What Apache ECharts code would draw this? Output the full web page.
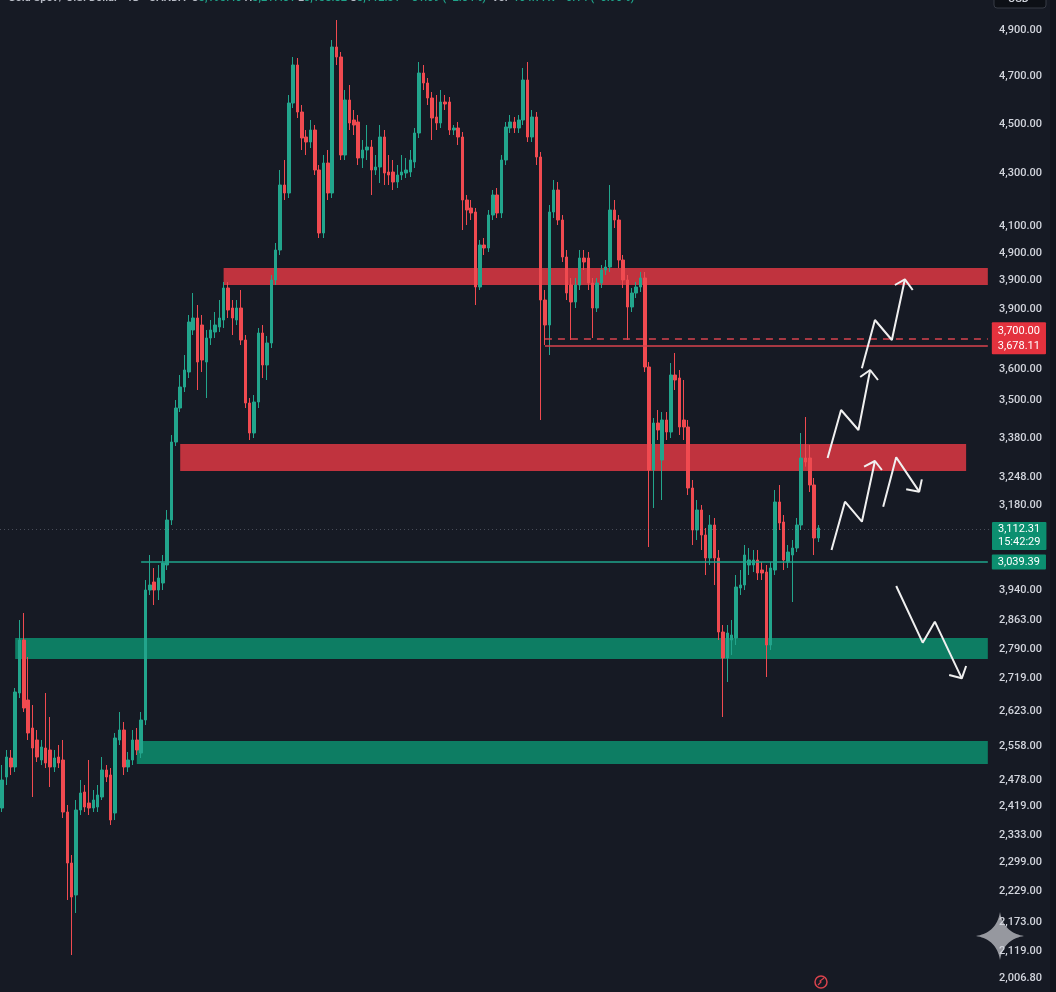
<!DOCTYPE html>
<html><head><meta charset="utf-8">
<script src="https://cdn.jsdelivr.net/npm/echarts@6/dist/echarts.min.js"></script>
<style>html,body{margin:0;padding:0;background:#161a24;overflow:hidden}#c{width:1056px;height:992px}</style>
</head><body><div id="c"></div>
<script>
// ---------- data ----------
// candles: [open, close, low, high]
const ohlc = [
[2576,2660,2564,2705],[2669,2729,2645,2750],[2726,2699,2675,2750],[2699,2924,2684,2936],[2921,3080,2906,3140],
[3080,2876,2864,3161],[2900,2801,2780,3029],[2816,2756,2609,2885],[2780,2729,2714,2810],[2720,2759,2705,2780],
[2756,2711,2696,2921],[2750,2699,2639,2849],[2699,2726,2684,2750],[2729,2711,2696,2765],[2720,2564,2546,2780],
[2564,2411,2300,2585],[2411,2309,2135,2435],[2315,2570,2261,2600],[2570,2621,2555,2660],[2624,2579,2564,2645],
[2591,2576,2555,2720],[2576,2600,2564,2630],[2579,2615,2564,2645],[2609,2690,2600,2729],[2690,2669,2654,2705],
[2675,2540,2525,2696],[2561,2786,2540,2801],[2780,2810,2765,2864],[2810,2699,2675,2834],[2699,2720,2684,2744],
[2720,2780,2705,2810],[2780,2750,2735,2816],[2741,2840,2726,2864],[2840,3230,2825,3260],[3230,3245,3215,3335],
[3254,3230,3185,3296],[3230,3266,3200,3305],[3251,3311,3230,3335],[3305,3440,3290,3470],[3440,3674,3425,3695],
[3674,3776,3662,3800],[3776,3839,3764,3875],[3839,3890,3824,3935],[3884,4034,3866,4055],[4010,4046,3995,4121],
[4046,3914,3830,4085],[4025,3920,3884,4055],[3914,3986,3806,4010],[3986,4010,3965,4040],[4004,4025,3986,4064],
[4019,4046,4004,4100],[4040,4136,4016,4154],[4136,4070,4046,4154],[4076,4046,3995,4100],[4040,4076,4025,4100],
[4076,3980,3965,4130],[3980,3791,3776,3995],[3791,3701,3680,3806],[3701,3794,3686,3815],[3794,4001,3776,4016],
[4001,3905,3866,4025],[3905,3971,3860,3992],[3971,4160,3956,4175],[4160,4250,4145,4271],[4250,4445,4235,4490],
[4445,4421,4400,4520],[4421,4691,4406,4715],[4691,4805,4676,4829],[4805,4664,4646,4826],[4664,4586,4550,4685],
[4589,4574,4535,4610],[4574,4610,4556,4640],[4610,4490,4475,4625],[4490,4301,4286,4505],[4301,4511,4286,4535],
[4511,4421,4400,4550],[4421,4859,4406,4880],[4859,4829,4805,4940],[4829,4535,4520,4844],[4535,4700,4520,4730],
[4700,4631,4610,4745],[4640,4625,4595,4670],[4634,4526,4505,4655],[4526,4550,4496,4580],[4550,4559,4520,4625],
[4559,4490,4415,4580],[4490,4499,4475,4535],[4499,4589,4451,4625],[4589,4481,4445,4610],[4484,4475,4445,4535],
[4484,4454,4430,4520],[4454,4475,4436,4505],[4475,4484,4460,4535],[4481,4490,4466,4526],[4484,4520,4469,4550],
[4514,4601,4496,4616],[4601,4781,4586,4814],[4781,4751,4730,4805],[4751,4706,4685,4766],[4706,4646,4580,4724],
[4649,4631,4610,4715],[4631,4694,4616,4730],[4694,4688,4670,4715],[4694,4610,4595,4709],[4610,4616,4595,4625],
[4616,4589,4565,4634],[4589,4400,4310,4604],[4400,4370,4325,4415],[4376,4361,4340,4400],[4364,4139,4085,4376],
[4139,4265,4130,4280],[4265,4256,4235,4286],[4256,4355,4244,4370],[4355,4415,4340,4430],[4415,4361,4346,4436],
[4361,4520,4346,4535],[4520,4619,4505,4634],[4616,4634,4601,4655],[4634,4616,4601,4649],[4616,4640,4601,4655],
[4640,4760,4625,4796],[4760,4589,4574,4814],[4589,4649,4574,4670],[4649,4529,4505,4664],[4529,4100,3740,4544],
[4100,4025,3965,4130],[4025,4364,3935,4385],[4364,4430,4346,4460],[4430,4340,4325,4454],[4340,4229,4214,4355],
[4229,4121,4100,4250],[4145,4094,3980,4166],[4094,4145,4076,4166],[4145,4226,4130,4250],[4226,4214,4190,4250],
[4226,4151,4130,4244],[4151,4076,3986,4166],[4076,4151,4064,4166],[4151,4190,4136,4205],[4190,4199,4175,4220],
[4199,4370,4184,4445],[4370,4340,4316,4400],[4340,4220,4196,4355],[4220,4160,4136,4235],[4160,4079,3980,4175],
[4079,4121,4064,4136],[4121,4139,4106,4154],[4139,4166,4124,4184],[4166,3899,3884,4184],[3899,3590,3359,3914],
[3590,3731,3476,3746],[3731,3710,3680,3770],[3620,3740,3500,3764],[3740,3704,3680,3764],[3704,3875,3686,3911],
[3875,3860,3830,3941],[3866,3719,3695,3890],[3740,3719,3680,3860],[3719,3536,3515,3740],[3536,3410,3365,3560],
[3410,3470,3380,3500],[3470,3395,3350,3485],[3395,3326,3275,3416],[3326,3425,3305,3455],[3425,3326,3245,3446],
[3326,3104,3080,3350],[3104,3026,2849,3125],[3026,3101,2954,3125],[3080,3095,3035,3140],[3086,3239,3065,3275],
[3236,3245,3215,3290],[3245,3335,3230,3365],[3305,3320,3275,3356],[3305,3320,3284,3350],[3320,3281,3260,3350],
[3290,3281,3260,3314],[3284,3065,2969,3305],[3065,3296,3050,3314],[3290,3494,3275,3530],[3494,3431,3410,3545],
[3434,3320,3290,3455],[3314,3344,3296,3365],[3335,3356,3194,3380],[3356,3425,3344,3446],[3425,3626,3410,3701],
[3626,3614,3600,3749],[3626,3545,3524,3665],[3545,3386,3335,3566],[3386,3416,3374,3425]
];
const slotCount = 228;               // candle slots incl. empty right margin
const categories = [];
for (let i = 0; i < slotCount; i++) categories.push('Bar ' + (i + 1));

const yMin = 2024, yMax = 5000;
const yTickValues = [4908,4770,4628,4481,4322,4241,4158,4073,3893,3800,3686,3569,3485,3228,3140,3053,2966,2865,2762,2660,2580,2495,2412,2325,2232,2147,2065];
const yTickLabels = ['4,900.00','4,700.00','4,500.00','4,300.00','4,100.00','4,900.00','3,900.00','3,900.00','3,600.00','3,500.00','3,380.00','3,248.00','3,180.00','3,940.00','2,863.00','2,790.00','2,719.00','2,623.00','2,558.00','2,478.00','2,419.00','2,333.00','2,299.00','2,229.00','2,173.00','2,119.00','2,006.80'];

// zones: [fromBar, toBar, low, high]
const redZones = [[51, 227, 4145, 4196], [41, 222, 3587, 3668]];
const greenZones = [[3, 227, 3023, 3086], [31, 227, 2708, 2777]];
const resistanceDash = [125, 227, 3985];
const resistanceSolid = [125, 227, 3964];
const supportLine = [32, 227, 3314];
const lastPrice = 3413;
const redTagText = ['3,700.00', '3,678.11'];
const lastTagText = ['3,112.31', '15:42:29'];
const supportTagText = '3,039.39';

// hand-drawn arrows: [barPosition, price]
const arrowPaths = [
  [[190.1,3626],[193.2,3770],[197.2,3710],[199.9,3890]],
  [[198.0,3895],[201.0,4040],[204.9,3980],[207.9,4162]],
  [[191.0,3350],[194.1,3495],[198.0,3435],[201.0,3617]],
  [[202.9,3480],[205.9,3628],[211.2,3525]],
  [[205.9,3242],[212.0,3072],[214.8,3135],[221.0,2965]]
];
const arrowHeads = [
  [[197.6,3869],[199.9,3890],[201.7,3860]],
  [[205.6,4145],[207.9,4162],[209.7,4130]],
  [[198.5,3600],[201.0,3617],[202.6,3590]],
  [[208.2,3532],[211.2,3525],[211.8,3562]],
  [[218.1,2975],[221.0,2965],[222.0,3002]]
];

// ---------- chart ----------
const UP = '#22a58c', DOWN = '#f04a50';
const chart = echarts.init(document.getElementById('c'));

const areaData = [];
redZones.forEach(z => areaData.push([{xAxis: z[0], yAxis: z[3], itemStyle: {color: '#c0333e'}}, {xAxis: z[1], yAxis: z[2]}]));
greenZones.forEach(z => areaData.push([{xAxis: z[0], yAxis: z[3], itemStyle: {color: '#0d7d63'}}, {xAxis: z[1], yAxis: z[2]}]));

const tagBase = {show: true, position: 'end', color: '#ffffff', fontSize: 11, fontFamily: 'Roboto', padding: [1, 6, 1, 6]};

const lineData = [
  {yAxis: lastPrice, lineStyle: {color: 'rgba(170,176,190,0.35)', type: [1, 3], width: 1}, label: {show: false}},
  {yAxis: lastPrice - 21, lineStyle: {color: 'rgba(0,0,0,0)', width: 0.1}, label: Object.assign({}, tagBase, {distance: 2, formatter: lastTagText.join('\n'), backgroundColor: '#0c8f70', lineHeight: 13, borderRadius: 1})},
  [{coord: [resistanceDash[0], resistanceDash[2]], lineStyle: {color: '#d8434d', width: 1.5, type: [7, 6]},
    label: Object.assign({}, tagBase, {distance: 4, formatter: redTagText.join('\n'), backgroundColor: '#e4323e', lineHeight: 15, borderRadius: 1})},
   {coord: [resistanceDash[1], resistanceDash[2]]}],
  [{coord: [resistanceSolid[0], resistanceSolid[2]], lineStyle: {color: '#d8434d', width: 1.5, type: 'solid'}, label: {show: false}},
   {coord: [resistanceSolid[1], resistanceSolid[2]]}],
  [{coord: [supportLine[0], supportLine[2]], lineStyle: {color: '#1fa58b', width: 1.5, type: 'solid'},
    label: Object.assign({}, tagBase, {distance: 4, formatter: supportTagText, backgroundColor: '#0c8f70', lineHeight: 13, borderRadius: 1})},
   {coord: [supportLine[1], supportLine[2]]}]
];

const series = [{
  type: 'candlestick',
  data: ohlc,
  barWidth: 3,
  itemStyle: {color: UP, color0: DOWN, borderColor: UP, borderColor0: DOWN, borderWidth: 1},
  markArea: {silent: true, data: areaData},
  markLine: {silent: true, symbol: ['none', 'none'], data: lineData}
}];
arrowPaths.concat(arrowHeads).forEach(p => series.push({
  type: 'line', xAxisIndex: 1, yAxisIndex: 0, data: p, symbol: 'none', silent: true, z: 10,
  lineStyle: {color: '#f0f0f0', width: 2}
}));

// decorative sparkle watermark (4-point star with concave sides)
const starPts = [];
(function () {
  const cx = 1000, cy = 936, R = 24, k = 0.14;
  const tips = [[0, -R], [R, 0], [0, R], [-R, 0]];
  for (let s = 0; s < 4; s++) {
    const a = tips[s], b = tips[(s + 1) % 4];
    const ctrl = [(a[0] + b[0]) * k, (a[1] + b[1]) * k];
    for (let t = 0; t < 1; t += 0.05) {
      const u = 1 - t;
      starPts.push([cx + u * u * a[0] + 2 * u * t * ctrl[0] + t * t * b[0], cy + u * u * a[1] + 2 * u * t * ctrl[1] + t * t * b[1]]);
    }
  }
})();

chart.setOption({
  animation: false,
  backgroundColor: '#161a24',
  grid: {left: 0, right: 66, top: 0, bottom: 0},
  xAxis: [
    {type: 'category', data: categories, show: false, boundaryGap: true},
    {type: 'value', min: -0.5, max: slotCount - 0.5, show: false}
  ],
  yAxis: {
    type: 'value', position: 'right', min: yMin, max: yMax,
    axisLine: {show: false}, axisTick: {show: false}, splitLine: {show: false},
    axisLabel: {
      customValues: yTickValues, align: 'right', margin: 52,
      color: '#d1d4dc', fontSize: 11, fontFamily: 'Roboto', fontWeight: 500,
      formatter: v => {
        let best = 0, d = Infinity;
        yTickValues.forEach((t, i) => { if (Math.abs(t - v) < d) { d = Math.abs(t - v); best = i; } });
        return yTickLabels[best];
      }
    }
  },
  series: series,
  graphic: [
    {type: 'rect', silent: true, shape: {x: 1050, y: 0, width: 6, height: 992}, style: {fill: '#11141c'}},
    {type: 'rect', silent: true, shape: {x: 994, y: -20, width: 52, height: 28, r: 3}, style: {fill: '#0d1016', stroke: '#363a45', lineWidth: 1}},
    {type: 'text', silent: true, x: 1008, y: -6, style: {text: 'USD', fill: '#d1d4dc', font: '500 11px Roboto'}},
    {type: 'text', x: 8, y: -7, silent: true, style: {
      text: '{w|Gold Spot / U.S. Dollar · 1D · OANDA  O}{g|3,193.40 }{w|H}{g|3,217.51 }{w|L}{g|3,138.82 }{w|C}{g|3,112.31  −81.09 (−2.54%)  }{w|Vol}{g|  104.77K  −0.14 (−0.90%)}',
      font: '500 11px Roboto',
      rich: {w: {fill: '#b8bcc6', font: '600 11px Roboto'}, g: {fill: '#1fa58b', font: '500 11px Roboto'}}
    }},
    {type: 'polygon', silent: true, shape: {points: starPts}, style: {fill: '#969880'.replace('80', '9f')}},
    {type: 'circle', silent: true, shape: {cx: 821, cy: 982, r: 6}, style: {fill: 'none', stroke: '#d8434d', lineWidth: 1.5}},
    {type: 'polyline', silent: true, shape: {points: [[818, 985], [821, 982], [820, 981], [824, 978]]}, style: {stroke: '#d8434d', lineWidth: 1.2, fill: 'none'}}
  ]
});
</script>
</body></html>
